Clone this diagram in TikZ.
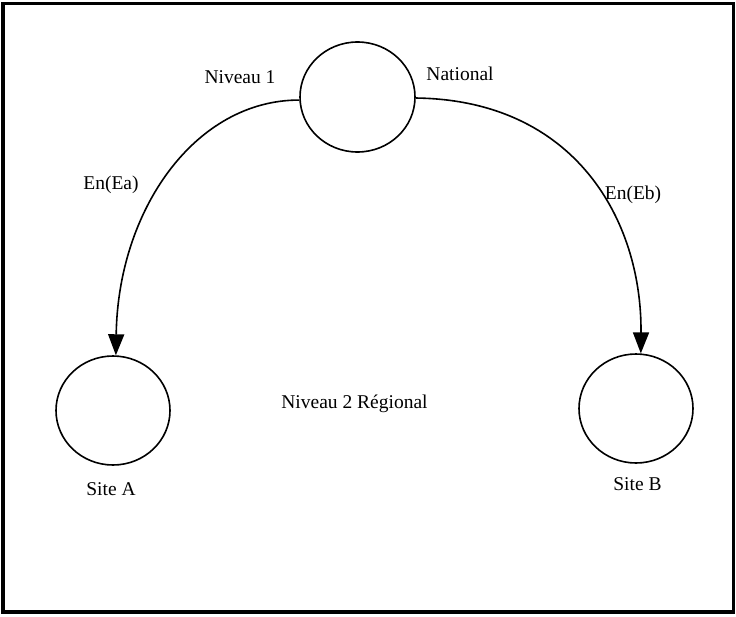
\documentclass[tikz,border=0pt]{standalone}
\usepackage{fontspec}
\setmainfont{Liberation Serif}
\usetikzlibrary{shapes.geometric,arrows.meta}
\begin{document}
\begin{tikzpicture}[x=1pt,y=-1pt,
  site/.style={draw,ellipse,line width=1.6pt,minimum width=114pt,minimum height=109pt,inner sep=0pt},
  lbl/.style={anchor=base,inner sep=0pt,font=\fontsize{19.5}{23}\selectfont},
  link/.style={line width=1.6pt,-{Triangle[length=21pt,width=16pt]}}]
\useasboundingbox (0,0) rectangle (736,616);
\draw[line width=3.5pt] (3,3.5) rectangle (733.5,612);
\node[site,minimum width=115pt,minimum height=110pt] (nat) at (357.5,97) {};
\node[site] (siteA) at (113,410.5) {};
\node[site] (siteB) at (636,408.5) {};
\draw[link] (nat.183) .. controls (195,100) and (118,210) .. (siteA.87);
\draw[link] (nat.-1) .. controls (575,100) and (642,220) .. (siteB.85);
\node[lbl] (niv1) at (240,83) {Niveau 1};
\node[lbl] (natl) at (460,80) {National};
\node[lbl] (ea) at (111,189) {En(Ea)};
\node[lbl] (eb) at (633,199) {En(Eb)};
\node[lbl] (niv2) at (354.5,408) {Niveau 2 Régional};
\node[lbl] (la) at (111,495) {Site A};
\node[lbl] (lb) at (637.5,490) {Site B};
\end{tikzpicture}
\end{document}
